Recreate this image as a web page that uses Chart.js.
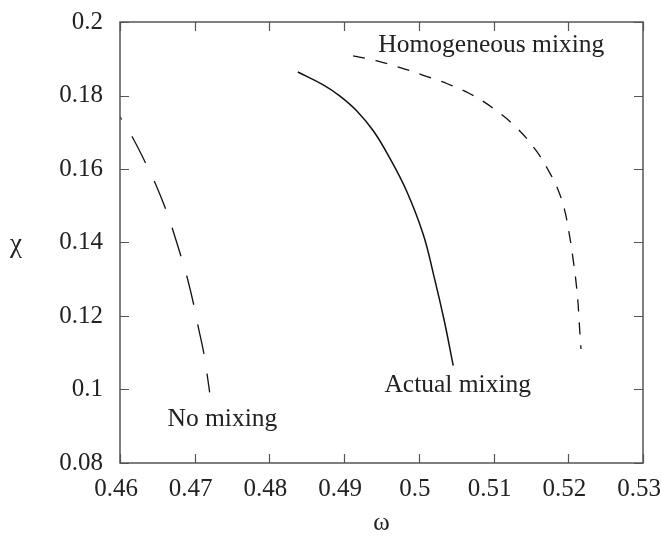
<!DOCTYPE html>
<html>
<head>
<meta charset="utf-8">
<script src="https://cdn.jsdelivr.net/npm/chart.js@4.4.0/dist/chart.umd.min.js"></script>
<style>
html,body{margin:0;padding:0;background:#fff;}
canvas{display:block;}
</style>
</head>
<body>
<canvas id="c" width="661" height="538"></canvas>
<script>
// ---- data ----
const xTicks = [0.46, 0.47, 0.48, 0.49, 0.50, 0.51, 0.52, 0.53];
const yTicks = [0.08, 0.10, 0.12, 0.14, 0.16, 0.18, 0.20];
const xTickLabels = ['0.46','0.47','0.48','0.49','0.5','0.51','0.52','0.53'];
const yTickLabels = ['0.08','0.1','0.12','0.14','0.16','0.18','0.2'];

const omegaNo  = [0.4600,0.4617,0.4636,0.4648,0.4663,0.4671,0.4683,0.4690,0.4699,0.4704,0.4712,0.4716,0.4720];
const chiNo    = [0.1742,0.1685,0.1609,0.1557,0.1481,0.1432,0.1353,0.1304,0.1228,0.1177,0.1101,0.1049,0.0992];

const omegaAct = [0.4838,0.4872,0.4894,0.4917,0.4939,0.4961,0.4984,0.5006,0.5020,0.5034,0.5046];
const chiAct   = [0.1864,0.1829,0.1799,0.1758,0.1704,0.1630,0.1538,0.1421,0.1310,0.1187,0.1065];

const omegaHom = [0.4912,0.4944,0.4975,0.5006,0.5038,0.5069,0.5099,0.5131,0.5157,0.5174,0.5186,0.5195,0.5201,0.5206,0.5210,0.5213,0.5215,0.5217];
const chiHom   = [0.1908,0.1894,0.1876,0.1855,0.1832,0.1804,0.1766,0.1712,0.1650,0.1594,0.1545,0.1489,0.1427,0.1361,0.1299,0.1236,0.1171,0.1110];

const seriesNames = ['No mixing','Actual mixing','Homogeneous mixing'];
const labelOmega = [0.4737, 0.5052, 0.5097];
const labelChi   = [0.0900, 0.0992, 0.1919];

const xTitle = 'ω';
const yTitle = 'χ';

const FONT = "'Liberation Serif','Times New Roman',serif";

const pts = (xs, ys) => xs.map((x, i) => ({x: x, y: ys[i]}));

const framePlugin = {
  id: 'frame',
  afterDraw(chart) {
    const ctx = chart.ctx, a = chart.chartArea;
    const xs = chart.scales.x, ys = chart.scales.y;
    ctx.save();
    ctx.strokeStyle = '#555';
    ctx.lineWidth = 1.5;
    ctx.strokeRect(a.left, a.top, a.right - a.left, a.bottom - a.top);
    ctx.lineWidth = 1.2;
    const L = 9;
    ctx.beginPath();
    xTicks.forEach(v => {
      const p = Math.round(xs.getPixelForValue(v)) + 0.5;
      ctx.moveTo(p, a.bottom); ctx.lineTo(p, a.bottom - L);
      ctx.moveTo(p, a.top); ctx.lineTo(p, a.top + L);
    });
    yTicks.forEach(v => {
      const p = Math.round(ys.getPixelForValue(v)) + 0.5;
      ctx.moveTo(a.left, p); ctx.lineTo(a.left + L, p);
      ctx.moveTo(a.right, p); ctx.lineTo(a.right - L, p);
    });
    ctx.stroke();
    // curve labels
    ctx.fillStyle = '#222';
    ctx.font = '25.5px ' + FONT;
    ctx.textAlign = 'center';
    ctx.textBaseline = 'alphabetic';
    seriesNames.forEach((n, i) => {
      ctx.fillText(n, xs.getPixelForValue(labelOmega[i]), ys.getPixelForValue(labelChi[i]));
    });
    // y title (unrotated)
    ctx.font = '27px ' + FONT;
    ctx.textBaseline = 'middle';
    ctx.fillText(yTitle, 16, (a.top + a.bottom) / 2 + 2);
    ctx.restore();
  }
};

new Chart(document.getElementById('c'), {
  type: 'scatter',
  data: {
    datasets: [
      { label: seriesNames[0], data: pts(omegaNo, chiNo), showLine: true, pointRadius: 0,
        borderColor: '#111', borderWidth: 1.3, borderDash: [30, 20], borderDashOffset: 27,
        tension: 0.4 },
      { label: seriesNames[1], data: pts(omegaAct, chiAct), showLine: true, pointRadius: 0,
        borderColor: '#111', borderWidth: 1.5, tension: 0.4 },
      { label: seriesNames[2], data: pts(omegaHom, chiHom), showLine: true, pointRadius: 0,
        borderColor: '#111', borderWidth: 1.3, borderDash: [12, 11], tension: 0.4 }
    ]
  },
  options: {
    responsive: false,
    animation: false,
    layout: { padding: { top: 22, right: 18, left: 0, bottom: 0 } },
    plugins: { legend: { display: false }, tooltip: { enabled: false } },
    scales: {
      x: {
        type: 'linear', min: 0.46, max: 0.53,
        afterFit(s) { s.height = 75; s.paddingLeft = 0; s.paddingRight = 0; },
        afterBuildTicks(s) { s.ticks = xTicks.map(v => ({value: v})); },
        ticks: {
          callback: (v) => xTickLabels[xTicks.findIndex(t => Math.abs(t - v) < 1e-9)],
          font: { family: FONT, size: 25 }, color: '#222', padding: 11, maxRotation: 0,
          labelOffset: -4, autoSkip: false
        },
        grid: { drawOnChartArea: false, drawTicks: false },
        border: { display: false },
        title: { display: true, text: xTitle, font: { family: FONT, size: 25 }, color: '#222', padding: { top: 4, bottom: 0 } }
      },
      y: {
        type: 'linear', min: 0.08, max: 0.2,
        afterFit(s) { s.width = 120; s.paddingTop = 0; s.paddingBottom = 0; },
        afterBuildTicks(s) { s.ticks = yTicks.map(v => ({value: v})); },
        ticks: {
          callback: (v) => yTickLabels[yTicks.findIndex(t => Math.abs(t - v) < 1e-9)],
          font: { family: FONT, size: 25 }, color: '#222', padding: 17
        },
        grid: { drawOnChartArea: false, drawTicks: false },
        border: { display: false }
      }
    }
  },
  plugins: [framePlugin]
});
</script>
</body>
</html>
